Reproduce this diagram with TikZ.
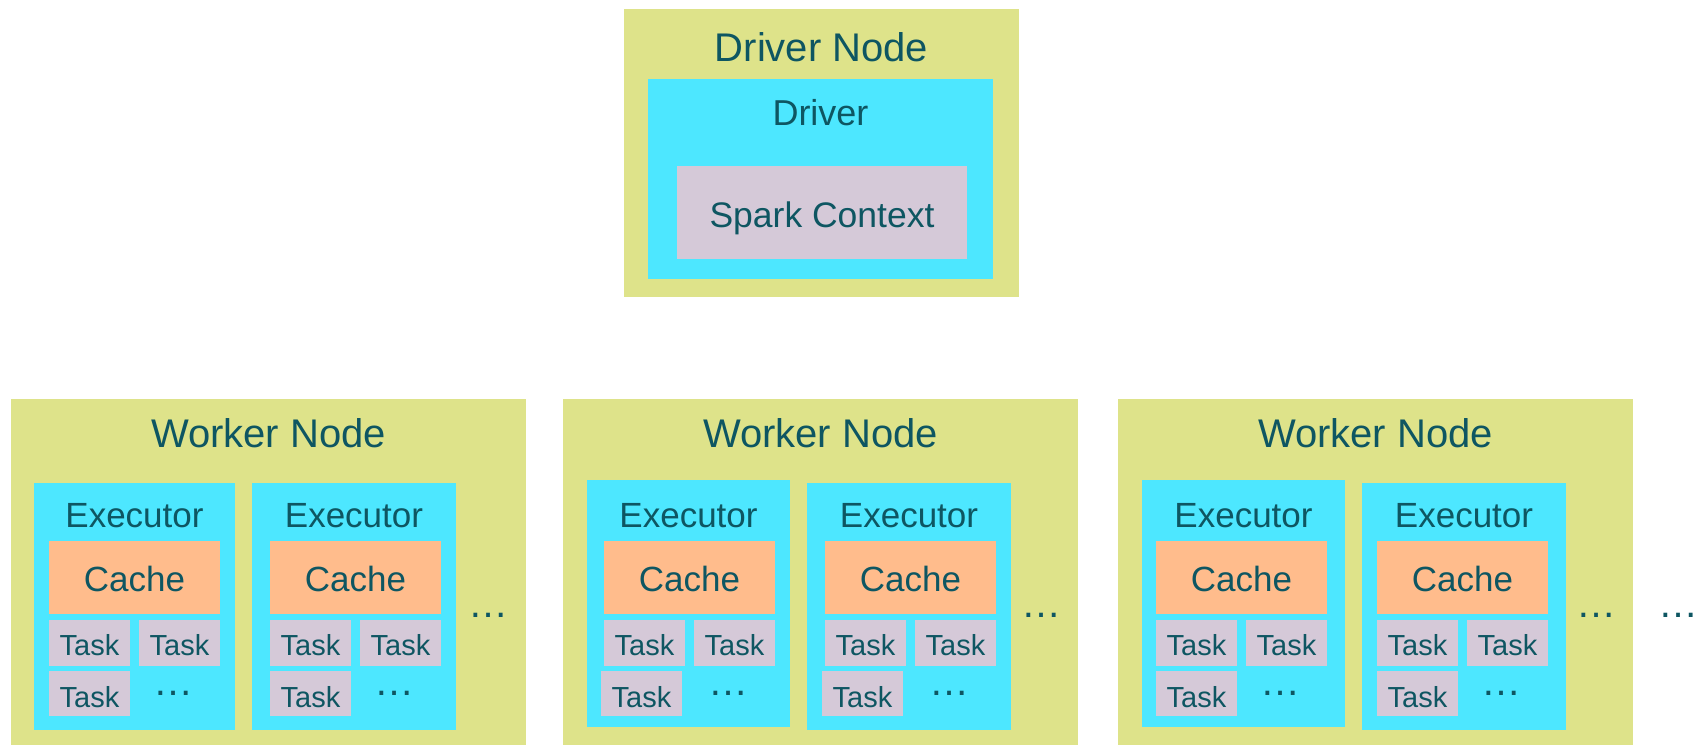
\documentclass[tikz,border=0pt]{standalone}
\usepackage{fontspec}
\setmainfont{Liberation Sans}

\definecolor{nodebg}{RGB}{222,227,138}
\definecolor{procbg}{RGB}{77,231,255}
\definecolor{cachebg}{RGB}{255,188,140}
\definecolor{taskbg}{RGB}{213,201,216}
\definecolor{ink}{RGB}{14,86,98}

\tikzset{
  box/.style={inner sep=0pt, outer sep=0pt, draw=none, anchor=north west},
  hostbox/.style={box, fill=nodebg},
  procbox/.style={box, fill=procbg},
  ctxbox/.style={box, fill=taskbg},
  cachebox/.style={box, fill=cachebg, minimum width=171, minimum height=73},
  taskbox/.style={box, fill=taskbg, minimum width=81, minimum height=46},
  lbl/.style={inner sep=0pt, outer sep=0pt, anchor=base, text=ink},
  hosttitle/.style={lbl, font=\fontsize{40}{48}\selectfont},
  proctitle/.style={lbl, font=\fontsize{35}{42}\selectfont},
  tasklbl/.style={lbl, font=\fontsize{29}{35}\selectfont},
  more/.style={lbl, font=\fontsize{40}{48}\selectfont},
}

% one executor: name, left x, width, top y, cache left x, left x of the lower task
\newcommand{\execbox}[6]{%
  \node[procbox, minimum width=#3, minimum height=247] (#1) at (#2,#4) {};
  \node[proctitle] (#1-t) at ({#2+#3/2},527) {Executor};
  \node[cachebox] (#1-c) at (#5,541) {};
  \node[proctitle] (#1-ct) at ({#5+85.5},591) {Cache};
  \node[taskbox] (#1-a) at (#5,620) {};
  \node[tasklbl] at ({#5+40.5},655) {Task};
  \node[taskbox] (#1-b) at ({#5+90},620) {};
  \node[tasklbl] at ({#5+130.5},655) {Task};
  \node[taskbox, minimum height=45] (#1-d) at (#6,671) {};
  \node[tasklbl] at ({#6+40.5},707) {Task};
  \node[more] (#1-m) at ({#5+124},695) {…};
}

% one worker machine: name, left x
\newcommand{\workerbox}[2]{%
  \node[hostbox, minimum width=515, minimum height=346] (#1) at (#2,399) {};
  \node[hosttitle] (#1-t) at ({#2+257.5},447) {Worker Node};
}

\begin{document}
\begin{tikzpicture}[x=1pt,y=-1pt]
\useasboundingbox (0,0) rectangle (1706,745);

% driver machine
\node[hostbox, minimum width=395, minimum height=288] (dn) at (624,9) {};
\node[hosttitle] (dn-t) at (821.5,61) {Driver Node};
\node[procbox, minimum width=345, minimum height=200] (drv) at (648,79) {};
\node[lbl, font=\fontsize{36}{43}\selectfont] (drv-t) at (820.5,125) {Driver};
\node[ctxbox, minimum width=290, minimum height=93] (sc) at (677,166) {};
\node[lbl, font=\fontsize{35.5}{43}\selectfont] (sc-t) at (822,227) {Spark Context};

% worker machines
\workerbox{w1}{11}
\workerbox{w2}{563}
\workerbox{w3}{1118}

\execbox{w1e1}{34}{201}{483}{49}{49}
\execbox{w1e2}{252}{204}{483}{270}{270}
\execbox{w2e1}{587}{203}{480}{604}{601}
\execbox{w2e2}{807}{204}{483}{825}{822}
\execbox{w3e1}{1142}{203}{480}{1156}{1156}
\execbox{w3e2}{1362}{204}{483}{1377}{1377}

% further executors and workers
\node[more] (w1-m) at (488,617) {…};
\node[more] (w2-m) at (1041,617) {…};
\node[more] (w3-m) at (1596,617) {…};
\node[more] (all-m) at (1678,617) {…};
\end{tikzpicture}
\end{document}
